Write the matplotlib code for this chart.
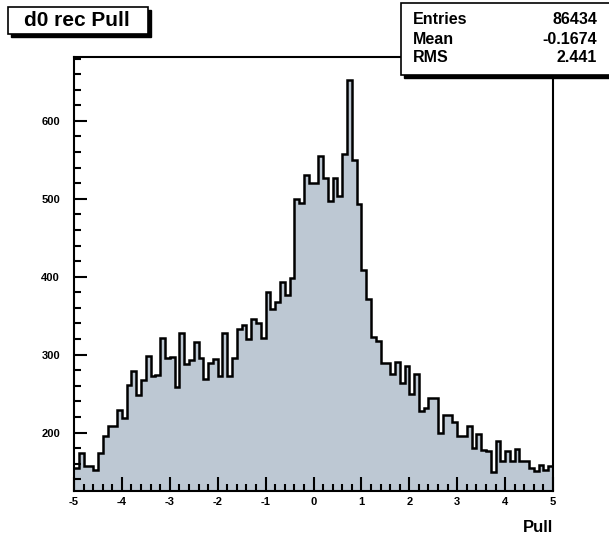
import matplotlib
matplotlib.use('Agg')
import matplotlib.pyplot as plt
from matplotlib.patches import Rectangle
from matplotlib.ticker import MultipleLocator
import numpy as np

# histogram contents, 100 bins from -5 to 5
bin_edges = np.linspace(-5, 5, 101)
counts = [155, 174, 157, 157, 152, 174, 195, 208, 209, 229,
          219, 261, 279, 248, 267, 298, 273, 274, 322, 296,
          297, 258, 328, 288, 293, 316, 296, 269, 289, 295,
          272, 328, 272, 296, 333, 338, 320, 346, 341, 322,
          381, 358, 368, 393, 377, 399, 500, 495, 531, 520,
          520, 555, 527, 497, 527, 503, 558, 653, 550, 493,
          408, 371, 323, 317, 289, 289, 275, 290, 264, 286,
          250, 275, 228, 231, 244, 244, 200, 222, 223, 214,
          196, 196, 209, 180, 198, 177, 176, 149, 189, 163,
          176, 163, 179, 164, 163, 155, 151, 158, 152, 157]

title = 'd0 rec Pull'
stat_names = ['Entries', 'Mean', 'RMS']
stat_values = ['86434', '-0.1674', '2.441']
x_ticks = [-5, -4, -3, -2, -1, 0, 1, 2, 3, 4, 5]
y_ticks = [200, 300, 400, 500, 600]

W, H = 609, 545
font = 'Liberation Sans'

def fx(px):
    return px / W

def fy(py):
    return 1 - py / H

fig = plt.figure(figsize=(W / 100, H / 100), dpi=100)
ax = fig.add_axes([fx(74), fy(491), fx(553) - fx(74), fy(57) - fy(491)])

fill_col = '#bdc8d3'
ax.stairs(counts, bin_edges, fill=True, color=fill_col, baseline=0)
ax.stairs(counts, bin_edges, baseline=None, color='black', linewidth=1.8)

ax.set_xlim(-5, 5)
ax.set_ylim(125, 682)

for s in ax.spines.values():
    s.set_linewidth(1.5)

ax.set_xticks(x_ticks)
ax.set_xticklabels([str(t) for t in x_ticks])
ax.set_yticks(y_ticks)
ax.set_yticklabels([str(t) for t in y_ticks])
ax.xaxis.set_minor_locator(MultipleLocator(0.2))
ax.yaxis.set_minor_locator(MultipleLocator(20))
ax.tick_params(axis='both', which='both', direction='in', top=False, right=False,
               width=1.5)
ax.tick_params(axis='x', which='major', length=10, pad=4)
ax.tick_params(axis='x', which='minor', length=5)
ax.tick_params(axis='y', which='major', length=9, pad=10)
ax.tick_params(axis='y', which='minor', length=5)
for lab in ax.get_xticklabels() + ax.get_yticklabels():
    lab.set_fontfamily(font)
    lab.set_fontweight('bold')
    lab.set_fontsize(8)

fig.text(fx(553), fy(528), 'Pull', ha='right', va='center',
         fontfamily=font, fontweight='bold', fontsize=12)

# title box with shadow
fig.add_artist(Rectangle((fx(11), fy(37)), fx(148) - fx(8), fy(7) - fy(34),
                         transform=fig.transFigure, facecolor='black',
                         edgecolor='black'))
fig.add_artist(Rectangle((fx(8), fy(34)), fx(148) - fx(8), fy(7) - fy(34),
                         transform=fig.transFigure, facecolor='white',
                         edgecolor='black', linewidth=1.2))
fig.text(fx(77), fy(21), title, ha='center', va='center',
         fontfamily=font, fontweight='bold', fontsize=15)

# stats box
fig.add_artist(Rectangle((fx(404), fy(78)), fx(609) - fx(401), fy(3) - fy(75),
                         transform=fig.transFigure, facecolor='black',
                         edgecolor='black'))
fig.add_artist(Rectangle((fx(401), fy(75)), fx(612) - fx(401), fy(3) - fy(75),
                         transform=fig.transFigure, facecolor='white',
                         edgecolor='black', linewidth=1.2))
row_y = [20, 39, 58]
for name, val, yy in zip(stat_names, stat_values, row_y):
    fig.text(fx(413), fy(yy), name, ha='left', va='center',
             fontfamily=font, fontweight='bold', fontsize=11.5)
    fig.text(fx(597), fy(yy), val, ha='right', va='center',
             fontfamily=font, fontweight='bold', fontsize=11.5)

fig.savefig('out.png', dpi=100)
